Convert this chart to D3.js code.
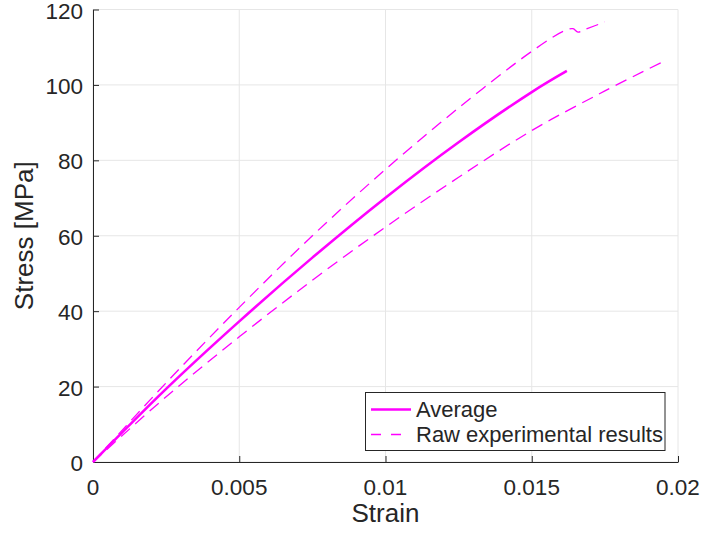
<!DOCTYPE html>
<html lang="en">
<head>
    <meta charset="UTF-8">
    <title>Stress-strain</title>
    <script src="https://d3js.org/d3.v7.min.js"></script>
    <style>
        body { margin: 0; background: #fff; }
        text { font-family: "Liberation Sans", Arial, Helvetica, sans-serif; fill: #262626; }
    </style>
</head>
<body>
    <svg id="chart"></svg>

    <script>
        // average curve
        const avgStrain = [0, 0.0025, 0.005, 0.0075, 0.01, 0.0125, 0.015, 0.0162];
        const avgStress = [0, 19.4, 37.3, 54.2, 70.1, 84.8, 98.1, 103.7];

        // raw specimen 1 (upper)
        const raw1Strain = [0, 0.0025, 0.005, 0.0075, 0.01, 0.0125, 0.015, 0.0161, 0.01641, 0.01658, 0.01682, 0.0175];
        const raw1Stress = [0, 21, 41, 60, 77.6, 93.9, 108.9, 114.3, 114.9, 114.0, 114.7, 116.7];

        // raw specimen 2 (lower)
        const raw2Strain = [0, 0.0025, 0.005, 0.0075, 0.01, 0.0125, 0.015, 0.0175, 0.01955];
        const raw2Stress = [0, 17.3, 33.2, 48.2, 62.3, 75.5, 87.9, 98.4, 106.4];

        const xTicks = [0, 0.005, 0.01, 0.015, 0.02];
        const xTickLabels = ["0", "0.005", "0.01", "0.015", "0.02"];
        const yTicks = [0, 20, 40, 60, 80, 100, 120];

        const width = 703, height = 535;
        const m = { left: 93, right: 678, top: 9.5, bottom: 462 };
        const svg = d3.select("#chart").attr("width", width).attr("height", height);

        const x = d3.scaleLinear().domain([0, 0.02]).range([m.left, m.right]);
        const y = d3.scaleLinear().domain([0, 120]).range([m.bottom, m.top]);

        // grid
        const grid = svg.append("g").attr("stroke", "#e6e6e6").attr("stroke-width", 1);
        grid.selectAll(".gx").data(xTicks).enter().append("line")
            .attr("x1", d => x(d)).attr("x2", d => x(d)).attr("y1", m.top).attr("y2", m.bottom);
        grid.selectAll(".gy").data(yTicks).enter().append("line")
            .attr("y1", d => y(d)).attr("y2", d => y(d)).attr("x1", m.left).attr("x2", m.right);

        // axes (ticks pointing inward)
        const xAxis = svg.append("g").attr("transform", `translate(0,${m.bottom})`)
            .call(d3.axisTop(x).tickValues(xTicks).tickFormat("").tickSizeInner(6).tickSizeOuter(0));
        const yAxis = svg.append("g").attr("transform", `translate(${m.left},0)`)
            .call(d3.axisRight(y).tickValues(yTicks).tickFormat("").tickSizeInner(6).tickSizeOuter(0));
        [xAxis, yAxis].forEach(a => {
            a.selectAll("path, line").attr("stroke", "#262626").attr("stroke-width", 1);
        });

        svg.selectAll(".xl").data(xTicks).enter().append("text")
            .attr("x", d => x(d)).attr("y", 494.5)
            .attr("text-anchor", "middle").attr("font-size", 22.5)
            .text((d, i) => xTickLabels[i]);
        svg.selectAll(".yl").data(yTicks).enter().append("text")
            .attr("x", m.left - 10).attr("y", d => y(d) + 9)
            .attr("text-anchor", "end").attr("font-size", 22.5)
            .text(d => d);

        svg.append("text").attr("x", x(0.01)).attr("y", 522)
            .attr("text-anchor", "middle").attr("font-size", 26).text("Strain");
        svg.append("text").attr("transform", `translate(33,${y(60)}) rotate(-90)`)
            .attr("text-anchor", "middle").attr("font-size", 26).text("Stress [MPa]");

        // curves
        const line = d3.line().x(d => x(d[0])).y(d => y(d[1])).curve(d3.curveCatmullRom.alpha(0.5));
        const zip = (a, b) => a.map((v, i) => [v, b[i]]);

        [zip(raw1Strain, raw1Stress), zip(raw2Strain, raw2Stress)].forEach(pts => {
            svg.append("path").datum(pts).attr("d", line)
                .attr("fill", "none").attr("stroke", "#ff00ff")
                .attr("stroke-width", 1.3).attr("stroke-dasharray", "12,7");
        });
        svg.append("path").datum(zip(avgStrain, avgStress)).attr("d", line)
            .attr("fill", "none").attr("stroke", "#ff00ff").attr("stroke-width", 2.6);

        // legend
        const lg = svg.append("g");
        lg.append("rect").attr("x", 365.5).attr("y", 392.5).attr("width", 299.5).attr("height", 58)
            .attr("fill", "#fff").attr("stroke", "#262626").attr("stroke-width", 1);
        lg.append("line").attr("x1", 371).attr("x2", 411).attr("y1", 409.5).attr("y2", 409.5)
            .attr("stroke", "#ff00ff").attr("stroke-width", 2.6);
        lg.append("line").attr("x1", 371).attr("x2", 411).attr("y1", 434.5).attr("y2", 434.5)
            .attr("stroke", "#ff00ff").attr("stroke-width", 1.3).attr("stroke-dasharray", "10,10");
        lg.append("text").attr("x", 416).attr("y", 417).attr("font-size", 22).text("Average");
        lg.append("text").attr("x", 416).attr("y", 442).attr("font-size", 22).text("Raw experimental results");
    </script>
</body>
</html>
